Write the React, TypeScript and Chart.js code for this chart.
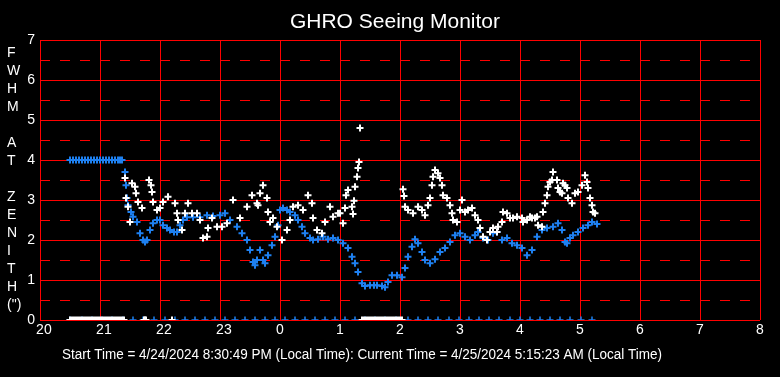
import { useEffect, useRef } from 'react';
import { Chart, registerables } from 'chart.js';

Chart.register(...registerables);

// Time axis: minutes after 20:00 local (0 = 20:00, 720 = 08:00)
const startHour = 20;
const axisMinutes = 720;
const hourTickStep = 60;
const fwhmMax = 7;
const halfGridValues = [0.5, 1.5, 2.5, 3.5, 4.5, 5.5, 6.5];

const titleText = 'GHRO Seeing Monitor';
const footerText =
  'Start Time = 4/24/2024 8:30:49 PM (Local Time): Current Time = 4/25/2024 5:15:23 AM (Local Time)';
const yAxisLetters = ['F', 'W', 'H', 'M', '', 'A', 'T', '', 'Z', 'E', 'N', 'I', 'T', 'H', '(")'];

// White series (raw FWHM)
const whiteTimes = [
  85, 86, 88, 90, 92, 95, 96, 98, 102, 109, 111, 112, 113, 117, 120, 123, 128, 135, 137, 138,
  142, 145, 148, 152, 157, 160, 163, 167, 168, 172, 177, 182, 187, 193, 200, 207, 212, 217, 218, 220,
  223, 227, 228, 230, 233, 237, 242, 247, 250, 253, 258, 263, 268, 272, 273, 277, 282, 285, 290, 293,
  298, 300, 303, 305, 306, 308, 312, 313, 314, 315, 317, 318, 319, 320,
  363, 364, 365, 368, 373, 378, 382, 385, 388, 390, 392, 393, 395, 398, 400, 402, 403, 407, 410, 412,
  413, 417, 420, 422, 425, 428, 432, 435, 438, 440, 443, 447, 450, 453, 457, 458, 462, 463, 467, 470,
  473, 477, 482, 483, 487, 490, 492, 495, 497, 498, 502, 503, 505, 507, 508, 510, 512, 513, 517, 518,
  520, 522, 523, 525, 527, 528, 532, 535, 538, 542, 545, 547, 548, 550, 552, 553, 555,
];
const whiteFwhm = [
  3.55, 3.05, 2.83, 2.45, 3.42, 3.33, 3.17, 2.95, 2.8, 3.5, 3.37, 3.2, 2.95, 2.75, 2.8, 2.95, 3.08, 2.92, 2.67, 2.5,
  2.25, 2.67, 2.92, 2.67, 2.67, 2.5, 2.05, 2.08, 2.3, 2.55, 2.33, 2.33, 2.42, 3.0, 2.55, 2.83, 3.12, 2.92, 2.87, 3.17,
  3.37, 3.05, 2.7, 2.45, 2.55, 2.33, 2.0, 2.25, 2.5, 2.83, 2.87, 2.75, 3.12, 2.92, 2.55, 2.25, 2.17, 2.45, 2.83, 2.58,
  2.67, 2.67, 2.42, 2.8, 3.12, 3.25, 2.83, 2.65, 2.98, 3.33, 3.58, 3.8, 3.95, 4.8,
  3.27, 3.1, 2.83, 2.75, 2.67, 2.83, 2.75, 2.62, 2.87, 3.05, 3.37, 3.58, 3.75, 3.67, 3.55, 3.37, 3.12, 3.05, 2.87, 2.67,
  2.5, 2.45, 2.75, 3.0, 2.7, 2.75, 2.8, 2.62, 2.5, 2.3, 2.08, 2.0, 2.2, 2.3, 2.2, 2.33, 2.45, 2.7, 2.67, 2.55,
  2.55, 2.58, 2.55, 2.45, 2.5, 2.58, 2.55, 2.55, 2.58, 2.37, 2.33, 2.7, 2.92, 3.12, 3.33, 3.45, 3.5, 3.7, 3.5, 3.3,
  3.2, 3.17, 3.42, 3.37, 3.3, 3.05, 2.92, 3.17, 3.2, 3.37, 3.62, 3.45, 3.3, 3.05, 2.87, 2.7, 2.67,
];
const whiteZeroTimes = [
  30, 32, 34, 36, 38, 40, 42, 44, 46, 48, 50, 52, 54, 56, 58, 60, 62, 64, 66, 68, 70, 72, 74, 76, 78, 80, 82, 84,
  104, 105, 106, 132,
  322, 324, 326, 328, 330, 332, 334, 336, 338, 340, 342, 344, 346, 348, 350, 352, 354, 356, 358, 360, 362,
];

// Blue series (zenith-corrected FWHM)
const blueTimes = [
  85, 86, 87, 88, 91, 93, 97, 100, 103, 105, 107, 110, 113, 117, 120, 123, 127, 130, 134, 137,
  140, 143, 147, 153, 160, 167, 173, 180, 185, 190, 197, 202, 207, 210, 213, 215, 217, 220, 223, 225,
  228, 232, 235, 238, 240, 243, 247, 250, 255, 258, 262, 265, 270, 273, 278, 283, 288, 293, 298, 303,
  308, 312, 315, 318, 322, 325, 330, 334, 337, 342, 345, 348, 352, 357, 362, 365, 368, 372, 375, 378,
  382, 385, 390, 395, 400, 405, 410, 415, 420, 425, 430, 435, 438, 443, 448, 453, 457, 462, 467, 472,
  477, 482, 487, 492, 497, 502, 507, 513, 518, 522, 525, 527, 530, 533, 538, 543, 548, 552, 557,
];
const blueFwhm = [
  3.7, 3.37, 3.05, 2.87, 2.7, 2.58, 2.45, 2.17, 2.0, 1.95, 2.0, 2.25, 2.42, 2.5, 2.5, 2.37, 2.3, 2.25, 2.2, 2.2,
  2.37, 2.5, 2.57, 2.57, 2.57, 2.62, 2.6, 2.62, 2.67, 2.5, 2.33, 2.17, 2.0, 1.75, 1.45, 1.37, 1.5, 1.75, 1.5, 1.42,
  1.62, 1.87, 2.08, 2.37, 2.75, 2.8, 2.75, 2.7, 2.62, 2.5, 2.33, 2.17, 2.05, 2.0, 2.02, 2.08, 2.02, 2.05, 2.0, 1.92,
  1.8, 1.58, 1.42, 1.2, 0.92, 0.85, 0.87, 0.87, 0.87, 0.85, 0.82, 0.95, 1.12, 1.12, 1.07, 1.3, 1.58, 1.83, 2.02, 1.92,
  1.7, 1.5, 1.42, 1.52, 1.7, 1.8, 1.95, 2.12, 2.17, 2.08, 2.0, 2.12, 2.2, 2.05, 2.0, 2.17, 2.2, 2.0, 2.05, 1.92,
  1.87, 1.8, 1.62, 1.75, 2.08, 2.25, 2.3, 2.33, 2.42, 2.25, 1.95, 1.92, 2.05, 2.12, 2.2, 2.3, 2.37, 2.45, 2.4,
];
const blueFlatTimes = [
  30, 33, 36, 39, 42, 45, 48, 51, 54, 57, 60, 63, 66, 69, 72, 75, 78, 80, 82,
];
const blueFlatValue = 4.0;
const blueZeroTimes = [
  30, 42, 52, 62, 72, 83, 93, 103, 114, 125, 135, 145, 155, 165, 175, 185, 195, 205, 215, 225,
  235, 245, 255, 265, 275, 285, 295, 305, 315, 325, 335, 345, 356, 368, 378, 388, 398, 409, 419, 429,
  439, 449, 459, 470, 480, 490, 500, 510, 520, 530, 541, 552,
];

const RED = '#ff0000';
const BLUE = '#1e80f0';
const WHITE = '#ffffff';
const FONT = '"Liberation Sans", Arial, Helvetica, sans-serif';

const pairs = (xs: number[], ys: number[]) => xs.map((x, i) => ({ x, y: ys[i] }));
const constant = (xs: number[], v: number) => xs.map((x) => ({ x, y: v }));

const halfGrid = {
  id: 'halfGrid',
  beforeDatasetsDraw(chart: any) {
    const ctx = chart.ctx as CanvasRenderingContext2D;
    const area = chart.chartArea;
    const yScale = chart.scales.y;
    ctx.save();
    ctx.strokeStyle = RED;
    ctx.lineWidth = 1;
    ctx.setLineDash([10, 10]);
    ctx.lineDashOffset = 0;
    halfGridValues.forEach((v) => {
      const py = Math.round(yScale.getPixelForValue(v)) + 0.5;
      ctx.beginPath();
      ctx.moveTo(Math.round(area.left), py);
      ctx.lineTo(Math.round(area.right), py);
      ctx.stroke();
    });
    ctx.restore();
  },
};

const overlayText = {
  id: 'overlayText',
  afterDraw(chart: any) {
    const ctx = chart.ctx as CanvasRenderingContext2D;
    ctx.save();
    ctx.fillStyle = WHITE;
    ctx.textBaseline = 'middle';
    ctx.textAlign = 'center';
    ctx.font = `21px ${FONT}`;
    ctx.fillText(titleText, 395, 22, 212);
    ctx.font = `14px ${FONT}`;
    ctx.fillText(footerText, 362, 355, 600);
    ctx.textAlign = 'left';
    yAxisLetters.forEach((ch, i) => {
      if (ch) ctx.fillText(ch, 7, 53.5 + 18 * i);
    });
    ctx.restore();
  },
};

export default function App() {
  const canvasRef = useRef<HTMLCanvasElement | null>(null);

  useEffect(() => {
    const canvas = canvasRef.current;
    if (!canvas) return;
    const marker = (color: string, width: number) => ({
      pointStyle: 'cross' as const,
      pointRadius: 3.5,
      pointBorderWidth: width,
      borderColor: color,
      backgroundColor: color,
      pointBorderColor: color,
      showLine: false,
    });
    const chart = new Chart(canvas, {
      type: 'scatter',
      data: {
        datasets: [
          { label: 'raw', data: pairs(whiteTimes, whiteFwhm), ...marker(WHITE, 2) },
          { label: 'raw-zero', data: constant(whiteZeroTimes, 0), ...marker(WHITE, 2) },
          { label: 'zenith', data: pairs(blueTimes, blueFwhm), ...marker(BLUE, 2) },
          { label: 'zenith-flat', data: constant(blueFlatTimes, blueFlatValue), ...marker(BLUE, 2) },
          { label: 'zenith-zero', data: constant(blueZeroTimes, 0), ...marker(BLUE, 1.5) },
        ],
      },
      options: {
        animation: false,
        responsive: false,
        devicePixelRatio: 1,
        events: [],
        layout: { padding: { top: 40, right: 20, left: 0, bottom: 0 } },
        plugins: {
          legend: { display: false },
          tooltip: { enabled: false },
          title: { display: false },
        },
        scales: {
          x: {
            type: 'linear',
            min: 0,
            max: axisMinutes,
            afterFit: (s: any) => {
              s.height = 57;
            },
            ticks: {
              stepSize: hourTickStep,
              autoSkip: false,
              maxRotation: 0,
              color: WHITE,
              padding: 2,
              font: { family: FONT, size: 14 },
              callback: (v: any) => {
                const h = Math.round(startHour + Number(v) / 60) % 24;
                return h >= 10 ? '  ' + h : String(h);
              },
            },
            grid: { color: RED, lineWidth: 1, drawTicks: false },
            border: { display: false },
          },
          y: {
            type: 'linear',
            min: 0,
            max: fwhmMax,
            afterFit: (s: any) => {
              s.width = 40;
            },
            ticks: {
              stepSize: 1,
              autoSkip: false,
              color: WHITE,
              padding: 5,
              font: { family: FONT, size: 14 },
            },
            grid: { color: RED, lineWidth: 1, drawTicks: false },
            border: { display: false },
          },
        },
      },
      plugins: [halfGrid, overlayText],
    } as any);
    return () => chart.destroy();
  }, []);

  return (
    <div
      style={{
        position: 'fixed',
        left: 0,
        top: 0,
        width: 780,
        height: 377,
        background: '#000',
        overflow: 'hidden',
      }}
    >
      <canvas ref={canvasRef} width={780} height={377} style={{ display: 'block' }} />
    </div>
  );
}
